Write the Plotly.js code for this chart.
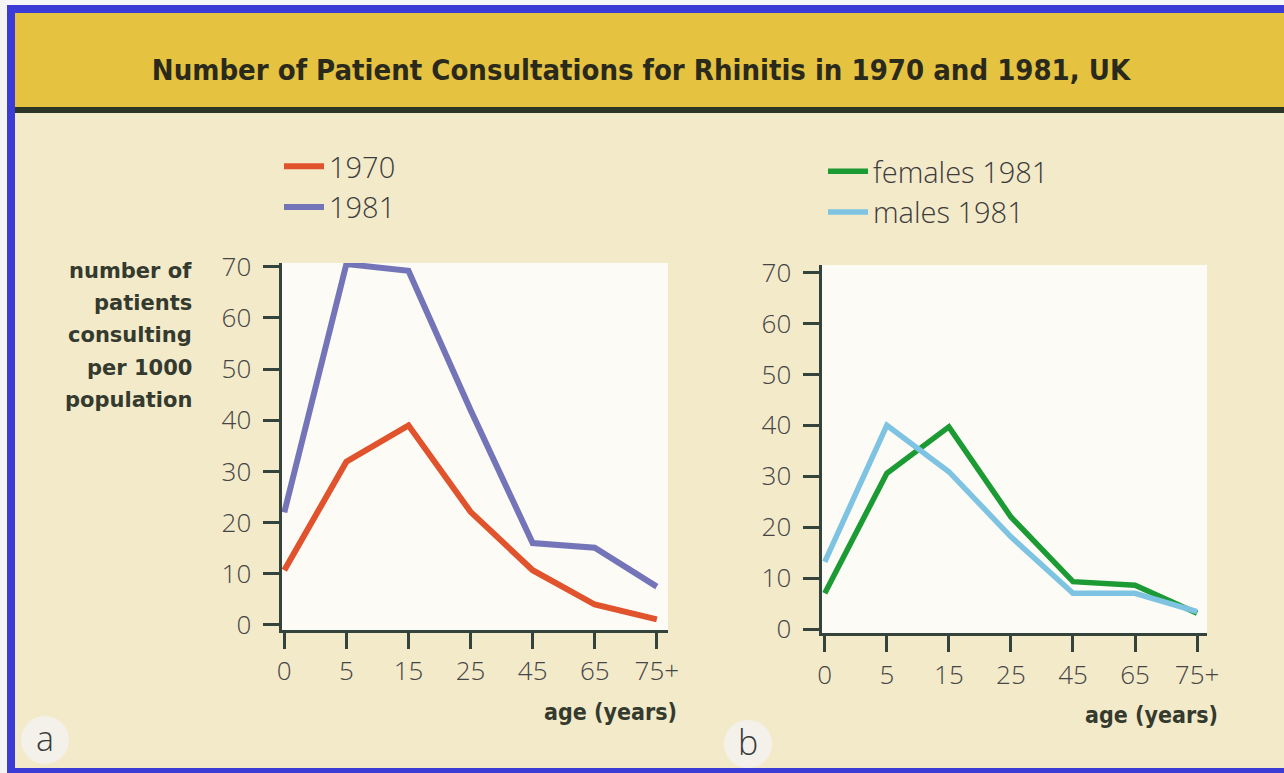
<!DOCTYPE html>
<html>
<head>
<meta charset="utf-8">
<script src="https://cdn.plot.ly/plotly-3.0.1.min.js"></script>
<style>html,body{margin:0;padding:0;background:#f3eaca;}#chart{width:1284px;height:773px;}</style>
</head>
<body>
<div id="chart"></div>
<script>
// ---- data ----
const ages = ['0', '5', '15', '25', '45', '65', '75+'];
const rate1970 = [10.7, 31.9, 39.0, 22.1, 10.7, 4.0, 1.1];
const rate1981 = [22.0, 70.5, 69.2, 42.0, 16.0, 15.1, 7.5];
const females1981 = [7.0, 30.6, 39.7, 22.0, 9.3, 8.6, 3.1];
const males1981 = [13.2, 40.0, 30.9, 18.1, 7.0, 7.0, 3.4];
const yTicks = [0, 10, 20, 30, 40, 50, 60, 70];

const W = 1284, H = 773;
const px = v => v / W;
const py = v => 1 - v / H;

const axisCol = '#34443c';
const tickFont = {family: 'Open Sans, Lato, sans-serif', size: 26, color: '#454545', weight: 300};

function xAx(domain, range) {
  return {domain: domain, type: 'category', range: range, showline: true, linewidth: 3, linecolor: axisCol,
    ticks: 'outside', ticklen: 16, tickwidth: 3, tickcolor: axisCol, showgrid: false, zeroline: false,
    tickfont: tickFont, fixedrange: true, ticklabelstandoff: 0};
}
function yAx(domain, range) {
  return {domain: domain, range: range, showline: true, linewidth: 3, linecolor: axisCol,
    ticks: 'outside', ticklen: 16, tickwidth: 3, tickcolor: axisCol, showgrid: false, zeroline: false,
    tickvals: yTicks, tickfont: tickFont, fixedrange: true, ticklabelstandoff: 6};
}

const traces = [
  {x: ages, y: rate1970, name: '1970', type: 'scatter', mode: 'lines', line: {color: '#e0532c', width: 6}, xaxis: 'x', yaxis: 'y', legend: 'legend'},
  {x: ages, y: rate1981, name: '1981', type: 'scatter', mode: 'lines', line: {color: '#7474b8', width: 6}, xaxis: 'x', yaxis: 'y', legend: 'legend'},
  {x: ages, y: females1981, name: 'females 1981', type: 'scatter', mode: 'lines', line: {color: '#1c9a34', width: 5.5}, xaxis: 'x2', yaxis: 'y2', legend: 'legend2'},
  {x: ages, y: males1981, name: 'males 1981', type: 'scatter', mode: 'lines', line: {color: '#7ec4e2', width: 5.5}, xaxis: 'x2', yaxis: 'y2', legend: 'legend2'}
];

const legendFont = {family: 'Open Sans, Lato, sans-serif', size: 29, color: '#3c3c3c', weight: 300};
const legendBase = {bgcolor: 'rgba(0,0,0,0)', borderwidth: 0, font: legendFont, xanchor: 'left', yanchor: 'top',
  traceorder: 'normal', itemclick: false, itemdoubleclick: false, itemwidth: 40};

const yLabelLines = ['number of', 'patients', 'consulting', 'per 1000', 'population'];
const yLabelY = [271, 303, 335, 368, 400];
const labFont = {family: 'DejaVu Sans, sans-serif', size: 21, color: '#343a2e', weight: 'bold'};

const annotations = [];
yLabelLines.forEach((t, i) => annotations.push({text: t, xref: 'paper', yref: 'paper', x: px(194), y: py(yLabelY[i]),
  xanchor: 'right', yanchor: 'middle', showarrow: false, font: labFont}));
const ageFont = {family: 'DejaVu Sans Condensed, DejaVu Sans, sans-serif', size: 23, color: '#343a2e', weight: 'bold'};
annotations.push({text: 'age (years)', xref: 'paper', yref: 'paper', x: px(610), y: py(712), xanchor: 'center', yanchor: 'middle', showarrow: false, font: ageFont});
annotations.push({text: 'age (years)', xref: 'paper', yref: 'paper', x: px(1151), y: py(715), xanchor: 'center', yanchor: 'middle', showarrow: false, font: ageFont});
const letterFont = {family: 'Open Sans, sans-serif', size: 34, color: '#3a3a3a', weight: 300};
annotations.push({text: 'a', xref: 'paper', yref: 'paper', x: px(45), y: py(738), xanchor: 'center', yanchor: 'middle', showarrow: false, font: letterFont});
annotations.push({text: 'b', xref: 'paper', yref: 'paper', x: px(748), y: py(742), xanchor: 'center', yanchor: 'middle', showarrow: false, font: letterFont});

const shapes = [
  {type: 'rect', xref: 'paper', yref: 'paper', x0: 0, x1: 1, y0: py(108), y1: py(12), fillcolor: '#e5c240', line: {width: 0}, layer: 'below'},
  {type: 'rect', xref: 'paper', yref: 'paper', x0: px(15), x1: 1, y0: py(113), y1: py(107), fillcolor: '#2c3626', line: {width: 0}, layer: 'below'},
  {type: 'rect', xref: 'paper', yref: 'paper', x0: 0, x1: 1, y0: py(5), y1: 1, fillcolor: '#f7f7f7', line: {width: 0}, layer: 'below'},
  {type: 'rect', xref: 'paper', yref: 'paper', x0: 0, x1: px(7), y0: 0, y1: 1, fillcolor: '#f4f4f4', line: {width: 0}, layer: 'below'},
  {type: 'rect', xref: 'paper', yref: 'paper', x0: px(7), x1: 1, y0: py(13), y1: py(5), fillcolor: '#3b3bd6', line: {width: 0}, layer: 'below'},
  {type: 'rect', xref: 'paper', yref: 'paper', x0: px(7), x1: px(15), y0: 0, y1: py(5), fillcolor: '#3b3bd6', line: {width: 0}, layer: 'below'},
  {type: 'rect', xref: 'paper', yref: 'paper', x0: px(7), x1: 1, y0: 0, y1: py(768), fillcolor: '#3b3bd6', line: {width: 0}, layer: 'below'},
  {type: 'circle', xref: 'paper', yref: 'paper', x0: px(21), x1: px(69), y0: py(764), y1: py(716), fillcolor: '#f3f1ea', line: {width: 0}, layer: 'below'},
  {type: 'circle', xref: 'paper', yref: 'paper', x0: px(724), x1: px(772), y0: py(768), y1: py(720), fillcolor: '#f3f1ea', line: {width: 0}, layer: 'below'}
];

const layout = {
  width: W, height: H,
  margin: {l: 0, r: 0, t: 0, b: 0, pad: 0},
  paper_bgcolor: '#f3eaca',
  plot_bgcolor: '#fcfbf6',
  title: {text: 'Number of Patient Consultations for Rhinitis in 1970 and 1981, UK', x: px(641), y: py(70), xref: 'paper', yref: 'container',
    xanchor: 'center', yanchor: 'middle', font: {family: 'DejaVu Sans Condensed, Liberation Sans Narrow, sans-serif', size: 29, color: '#2a2a1c', weight: 'bold'}},
  xaxis: xAx([px(281.5), px(668)], [-0.045, 6.18]),
  yaxis: yAx([py(630), py(263)], [-0.98, 70.72]),
  xaxis2: Object.assign(xAx([px(821.5), px(1207)], [-0.053, 6.16]), {anchor: 'y2'}),
  yaxis2: Object.assign(yAx([py(633.3), py(265)], [-0.845, 71.5]), {anchor: 'x2'}),
  legend: Object.assign({}, legendBase, {x: px(279), y: py(141)}),
  legend2: Object.assign({}, legendBase, {x: px(823), y: py(146)}),
  showlegend: true,
  annotations: annotations,
  shapes: shapes
};
layout.xaxis.anchor = 'y';
layout.yaxis.anchor = 'x';

Plotly.newPlot('chart', traces, layout, {displayModeBar: false, staticPlot: true});
</script>
</body>
</html>
